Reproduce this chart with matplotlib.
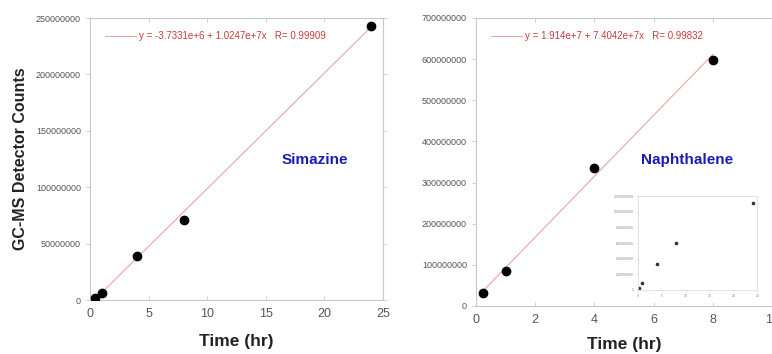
import numpy as np
import matplotlib
matplotlib.use("Agg")
import matplotlib.pyplot as plt

plt.rcParams['font.family'] = ['Liberation Sans', 'DejaVu Sans']

# Simazine
sim_t = [0.4, 1, 4, 8, 24]
sim_counts = [1.5e6, 5.9e6, 39e6, 70.5e6, 243e6]
sim_fit = (-3.7331e6, 1.0247e7)
sim_label = "y = -3.7331e+6 + 1.0247e+7x   R= 0.99909"

# Naphthalene
nap_t = [0.25, 1, 4, 8]
nap_counts = [31e6, 85e6, 336e6, 598e6]
nap_fit = (1.914e7, 7.4042e7)
nap_label = "y = 1.914e+7 + 7.4042e+7x   R= 0.99832"

# inset: naphthalene incl. 24 h
ins_t = [0.25, 1, 4, 8, 24]
ins_counts = [31e6, 85e6, 336e6, 598e6, 1115e6]

SPINE = '#c8c8c8'
TICKC = '#555555'
FIT = '#e8a6a6'
TXT = '#c83c3c'
BLUE = '#1c1cb4'


def style(ax, lsize=6.5, xsize=9):
    for s in ax.spines.values():
        s.set_color(SPINE)
        s.set_linewidth(0.8)
    ax.tick_params(axis='y', labelsize=lsize, colors=SPINE, labelcolor=TICKC,
                   length=3, width=0.6, right=True, direction='out')
    ax.tick_params(axis='x', labelsize=xsize, colors=SPINE, labelcolor=TICKC,
                   length=3, width=0.6, top=True, direction='in', pad=6)


def panel(ax, t, c, fit, label):
    xf = np.array([min(t), max(t)])
    ax.plot(xf, fit[0] + fit[1] * xf, color=FIT, lw=0.8, label=label)
    ax.plot(t, c, 'o', color='black', ms=6, zorder=3)
    leg = ax.legend(loc='upper left', bbox_to_anchor=(0.02, 0.985), frameon=False,
                    fontsize=7, handlelength=3.2, handletextpad=0.3)
    for txt in leg.get_texts():
        txt.set_color(TXT)


fig = plt.figure(figsize=(7.72, 3.54), dpi=100)

ax1 = fig.add_axes([0.1166, 0.1525, 0.3795, 0.7966])
panel(ax1, sim_t, sim_counts, sim_fit, sim_label)
ax1.set_xlim(0, 25)
ax1.set_ylim(0, 250e6)
ax1.set_xticks([0, 5, 10, 15, 20, 25])
ax1.set_yticks(np.arange(0, 250e6 + 1, 50e6))
ax1.yaxis.set_major_formatter(matplotlib.ticker.FuncFormatter(lambda v, p: "%d" % v))
style(ax1)
ax1.set_xlabel("Time (hr)", fontsize=12.5, fontweight='bold', color='#222222', labelpad=10)
ax1.set_ylabel("GC-MS Detector Counts", fontsize=11.5, fontweight='bold', color='#222222', labelpad=6)
ax1.text(0.768, 0.496, "Simazine", transform=ax1.transAxes, ha='center', va='center',
         fontsize=11, fontweight='bold', color=BLUE)

ax2 = fig.add_axes([0.6166, 0.1356, 0.3834, 0.8136])
panel(ax2, nap_t, nap_counts, nap_fit, nap_label)
ax2.set_xlim(0, 10)
ax2.set_ylim(0, 700e6)
ax2.set_xticks([0, 2, 4, 6, 8, 10])
ax2.set_yticks(np.arange(0, 700e6 + 1, 100e6))
ax2.yaxis.set_major_formatter(matplotlib.ticker.FuncFormatter(lambda v, p: "%d" % v))
style(ax2)
ax2.set_xlabel("Time (hr)", fontsize=12.5, fontweight='bold', color='#222222', labelpad=8)
ax2.text(0.713, 0.507, "Naphthalene", transform=ax2.transAxes, ha='center', va='center',
         fontsize=11, fontweight='bold', color=BLUE)

ax3 = fig.add_axes([0.826, 0.181, 0.155, 0.265])
ax3.plot(ins_t, ins_counts, 'o', color='#333333', ms=1.6)
ax3.set_xlim(0, 25)
ax3.set_ylim(0, 1200e6)
ax3.set_xticks([0, 5, 10, 15, 20, 25])
ax3.set_yticks(np.arange(0, 1200e6 + 1, 200e6))
ax3.yaxis.set_major_formatter(matplotlib.ticker.FuncFormatter(lambda v, p: "%d" % v))
for s in ax3.spines.values():
    s.set_color('#dddddd')
    s.set_linewidth(0.6)
ax3.tick_params(labelsize=2.5, colors='#cccccc', labelcolor='#888888', length=1.5, width=0.4, pad=1.5)

fig.savefig("out.png", dpi=100)
